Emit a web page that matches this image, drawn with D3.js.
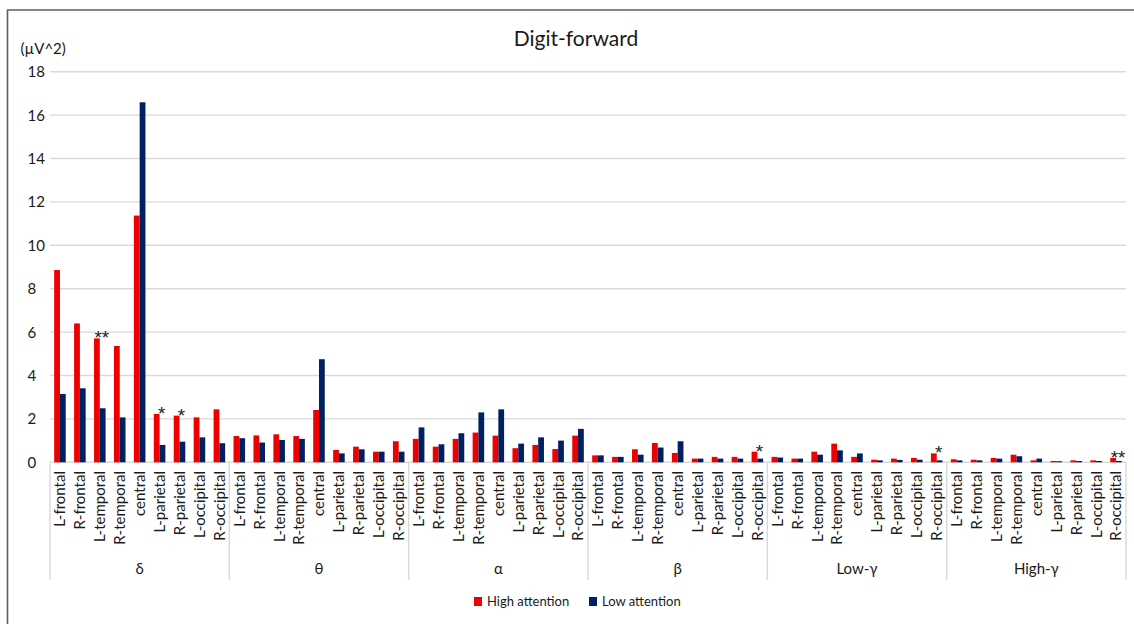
<!DOCTYPE html>
<html>
<head>
<meta charset="utf-8">
<script src="https://cdn.jsdelivr.net/npm/d3@7"></script>
<style>
  html, body { margin: 0; padding: 0; background: #fff; }
  svg { display: block; font-family: Lato, "Open Sans", sans-serif; }
</style>
</head>
<body>
<svg id="chart" width="1134" height="624"></svg>
<script>
// Frequency bands and scalp regions (categories on the x axis)
const bands = ["δ", "θ", "α", "β", "Low-γ", "High-γ"];
const regions = ["L-frontal", "R-frontal", "L-temporal", "R-temporal", "central",
                 "L-parietal", "R-parietal", "L-occipital", "R-occipital"];

// Mean power (µV^2), one row per band, one value per region
const highAttention = [
  [8.86, 6.40, 5.71, 5.36, 11.37, 2.23, 2.15, 2.07, 2.44],
  [1.21, 1.24, 1.29, 1.21, 2.41, 0.57, 0.72, 0.49, 0.97],
  [1.08, 0.72, 1.08, 1.37, 1.23, 0.65, 0.80, 0.61, 1.23],
  [0.32, 0.25, 0.60, 0.89, 0.43, 0.17, 0.25, 0.25, 0.49],
  [0.25, 0.17, 0.49, 0.86, 0.25, 0.12, 0.17, 0.20, 0.41],
  [0.14, 0.12, 0.20, 0.35, 0.09, 0.06, 0.09, 0.09, 0.20]
];
const lowAttention = [
  [3.15, 3.41, 2.49, 2.07, 16.59, 0.80, 0.95, 1.15, 0.88],
  [1.11, 0.91, 1.03, 1.08, 4.75, 0.41, 0.60, 0.49, 0.49],
  [1.61, 0.83, 1.34, 2.30, 2.44, 0.86, 1.15, 1.00, 1.54],
  [0.32, 0.25, 0.35, 0.68, 0.97, 0.17, 0.17, 0.17, 0.17],
  [0.22, 0.17, 0.35, 0.55, 0.41, 0.09, 0.11, 0.12, 0.09],
  [0.09, 0.09, 0.17, 0.28, 0.17, 0.05, 0.06, 0.06, 0.06]
];

const seriesNames = ["High attention", "Low attention"];
const seriesColors = ["#ee0000", "#002060"];
const yTicks = [0, 2, 4, 6, 8, 10, 12, 14, 16, 18];

// Significance markers between the two conditions
const significance = [
  { band: "δ", region: "L-temporal", mark: "**" },
  { band: "δ", region: "L-parietal", mark: "*" },
  { band: "δ", region: "R-parietal", mark: "*" },
  { band: "β", region: "R-occipital", mark: "*" },
  { band: "Low-γ", region: "R-occipital", mark: "*" },
  { band: "High-γ", region: "R-occipital", mark: "**" }
];

const svg = d3.select("#chart");
const W = 1134, H = 624;
const plot = { left: 50, right: 1126, top: 71.7, bottom: 462.3 };

svg.append("rect").attr("width", W).attr("height", H).attr("fill", "#fff");

// Outer frame (top and left edges visible)
svg.append("path")
  .attr("d", `M7.5,${H} V10 H${W}`)
  .attr("fill", "none").attr("stroke", "#5f5f5f").attr("stroke-width", 1.6);

// Flatten to one row per band/region
const rows = [];
bands.forEach((b, bi) => regions.forEach((r, ri) => {
  rows.push({ key: b + "|" + r, band: b, region: r,
              values: [highAttention[bi][ri], lowAttention[bi][ri]] });
}));

const x = d3.scaleBand().domain(rows.map(d => d.key))
  .range([plot.left, plot.right]).padding(0);
const xs = d3.scaleBand().domain(seriesNames)
  .range([x.bandwidth() * 0.21, x.bandwidth() * 0.79]).padding(0);
const y = d3.scaleLinear().domain([0, 18]).range([plot.bottom, plot.top]);

// Horizontal gridlines
svg.append("g").selectAll("line").data(yTicks).join("line")
  .attr("x1", plot.left).attr("x2", plot.right)
  .attr("y1", d => y(d)).attr("y2", d => y(d))
  .attr("stroke", "#d9d9d9").attr("stroke-width", 1.4);

// Y tick labels
svg.append("g").selectAll("text").data(yTicks).join("text")
  .attr("x", 27.5).attr("y", d => y(d)).attr("dy", "0.36em")
  .attr("font-size", 15).attr("fill", "#1a1a1a")
  .text(d => d);

svg.append("text").attr("x", 20.5).attr("y", 54)
  .attr("font-size", 15).attr("fill", "#1a1a1a").text("(µV^2)");

// Title
svg.append("text").attr("x", 576).attr("y", 46)
  .attr("text-anchor", "middle").attr("font-size", 21).attr("fill", "#1a1a1a")
  .text("Digit-forward");

// Bars
const groups = svg.append("g").selectAll("g").data(rows).join("g")
  .attr("transform", d => `translate(${x(d.key)},0)`);
groups.selectAll("rect")
  .data(d => d.values.map((v, i) => ({ name: seriesNames[i], value: v, color: seriesColors[i] })))
  .join("rect")
  .attr("x", d => xs(d.name))
  .attr("width", xs.bandwidth())
  .attr("y", d => y(d.value))
  .attr("height", d => y(0) - y(d.value))
  .attr("fill", d => d.color);

// Significance asterisks
svg.append("g").selectAll("text").data(significance).join("text")
  .attr("x", d => x(d.band + "|" + d.region) + x.bandwidth() / 2 + 2)
  .attr("y", d => {
    const r = rows.find(o => o.key === d.band + "|" + d.region);
    return y(d3.max(r.values)) + 6;
  })
  .attr("text-anchor", "middle")
  .attr("font-family", "'Liberation Sans', Arial, sans-serif")
  .attr("font-size", 19).attr("fill", "#222")
  .text(d => d.mark);

// Band separators on the category axis
const sepX = bands.map(b => x(b + "|" + regions[0])).concat([plot.right]);
svg.append("g").selectAll("line").data(sepX).join("line")
  .attr("x1", d => d).attr("x2", d => d)
  .attr("y1", plot.bottom).attr("y2", 580)
  .attr("stroke", "#d9d9d9").attr("stroke-width", 1.4);

// Region labels (rotated)
svg.append("g").selectAll("text").data(rows).join("text")
  .attr("transform", d => `translate(${x(d.key) + x.bandwidth() / 2},471) rotate(-90)`)
  .attr("text-anchor", "end").attr("dy", "0.36em")
  .attr("font-size", 15).attr("fill", "#1a1a1a")
  .text(d => d.region);

// Band labels
svg.append("g").selectAll("text").data(bands).join("text")
  .attr("x", (b, i) => (sepX[i] + sepX[i + 1]) / 2).attr("y", 574)
  .attr("text-anchor", "middle").attr("font-size", 15).attr("fill", "#1a1a1a")
  .text(d => d);

// Legend
const legend = svg.append("g").selectAll("g").data(seriesNames).join("g")
  .attr("transform", (d, i) => `translate(${[474, 589][i]},597)`);
legend.append("rect").attr("width", 8).attr("height", 9)
  .attr("fill", (d, i) => seriesColors[i]);
legend.append("text").attr("x", 13).attr("y", 9)
  .attr("font-size", 13).attr("fill", "#1a1a1a").text(d => d);
</script>
</body>
</html>
